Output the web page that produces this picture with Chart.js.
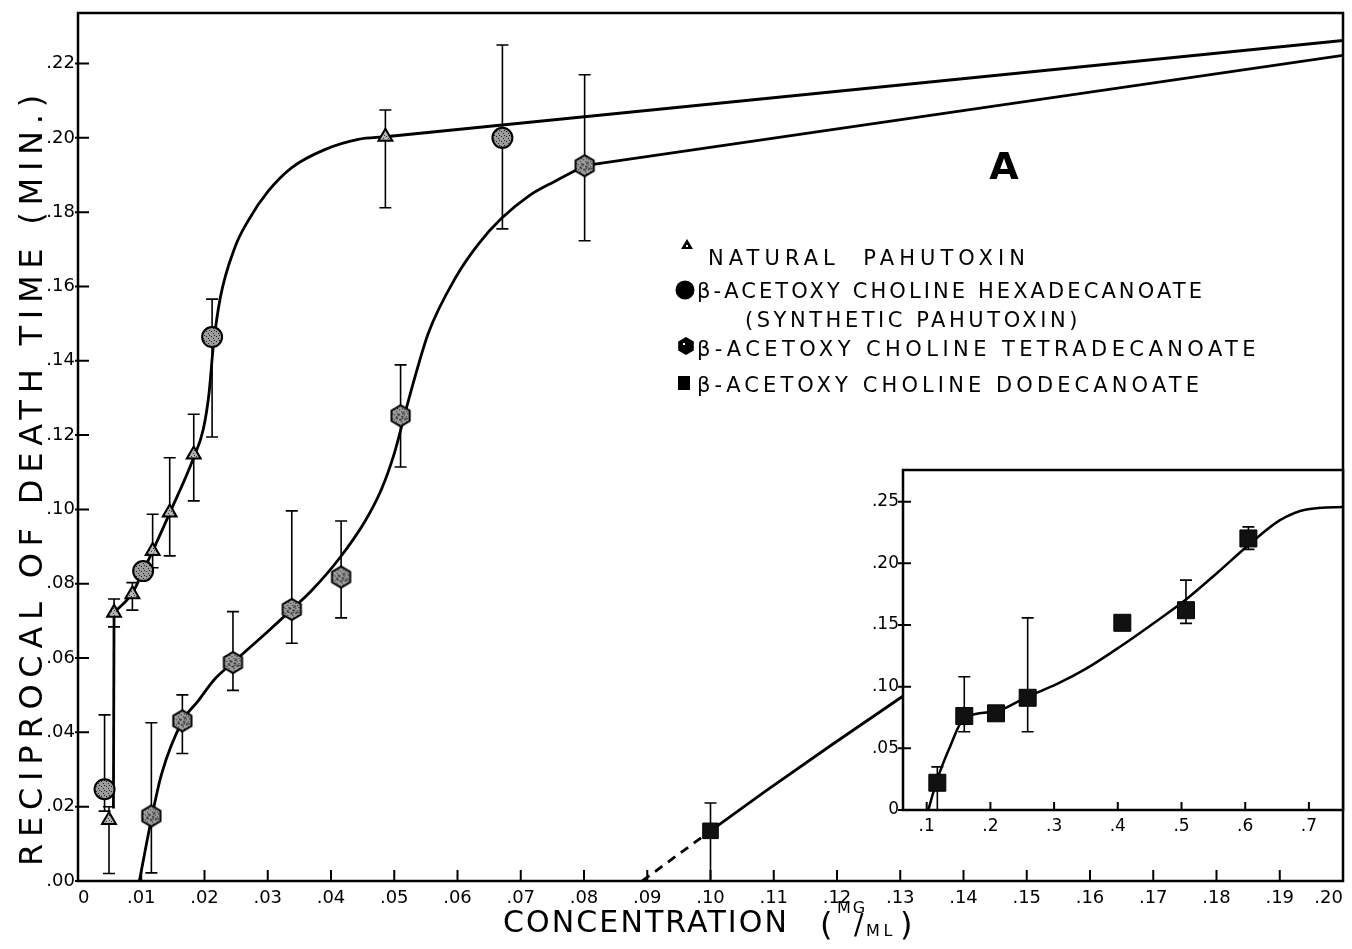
<!DOCTYPE html>
<html>
<head>
<meta charset="utf-8">
<script src="https://cdn.jsdelivr.net/npm/chart.js"></script>
<style>
  html, body { margin: 0; padding: 0; background: #fff; }
  #wrap { position: relative; width: 1352px; height: 949px; }
  #mainChart { position: absolute; left: 0; top: 0; }
  #insetChart { position: absolute; left: 850px; top: 460px; }
</style>
</head>
<body>
<div id="wrap">
  <canvas id="mainChart" width="1352" height="949"></canvas>
  <canvas id="insetChart" width="500" height="400"></canvas>
</div>
<script>
// ---- main panel data (concentration mg/ml vs 1/death time) ----
const naturalX = [0.0049, 0.0057, 0.0086, 0.0118, 0.0145, 0.0183, 0.0486];
const naturalY = [0.0164, 0.0722, 0.0772, 0.0888, 0.0992, 0.1148, 0.2003];
const naturalLo = [0.002, 0.0684, 0.0729, 0.0843, 0.0875, 0.1023, 0.1812];
const naturalHi = [0.020, 0.0759, 0.0803, 0.0987, 0.1139, 0.1256, 0.2075];

const hexadecX = [0.0042, 0.0103, 0.0212, 0.0671];
const hexadecY = [0.0247, 0.0834, 0.1464, 0.2000];
const hexadecLo = [0.0188, null, 0.1195, 0.1755];
const hexadecHi = [0.0447, null, 0.1566, 0.2250];

const tetraX = [0.0116, 0.0165, 0.0245, 0.0338, 0.0416, 0.0510, 0.0801];
const tetraY = [0.0175, 0.0431, 0.0588, 0.0731, 0.0818, 0.1252, 0.1925];
const tetraLo = [0.0022, 0.0343, 0.0513, 0.0640, 0.0708, 0.1114, 0.1723];
const tetraHi = [0.0426, 0.0501, 0.0725, 0.0996, 0.0969, 0.1389, 0.2170];

const dodecX = [0.100];
const dodecY = [0.0135];
const dodecLo = [0.0];
const dodecHi = [0.021];

// hand-drawn fitted curves: steep start, smooth body, straight tail
const naturalRiseX = [0.0056, 0.0057];
const naturalRiseY = [0.0195, 0.0722];
const naturalCurveX = [0.0057, 0.0086, 0.0103, 0.0118, 0.0145, 0.0183, 0.0198, 0.0207, 0.0214, 0.0225, 0.0248, 0.0269, 0.0301, 0.0338, 0.0391, 0.0443, 0.0486];
const naturalCurveY = [0.0722, 0.0775, 0.0834, 0.0888, 0.0990, 0.1140, 0.1215, 0.1310, 0.1440, 0.1570, 0.1705, 0.1777, 0.1857, 0.1920, 0.1969, 0.1996, 0.2003];
const naturalTailX = [0.0486, 0.2];
const naturalTailY = [0.2003, 0.2262];
const tetraCurveX = [0.0097, 0.0117, 0.0132, 0.0165, 0.0190, 0.0216, 0.0245, 0.0301, 0.0338, 0.0369, 0.0414, 0.0454, 0.0480, 0.0500, 0.0516, 0.0530, 0.0554, 0.0597, 0.0633, 0.0670, 0.0713, 0.0755, 0.0801];
const tetraCurveY = [0.0, 0.0175, 0.0287, 0.0430, 0.0485, 0.0543, 0.0588, 0.0673, 0.0731, 0.0781, 0.0870, 0.0969, 0.1055, 0.1150, 0.1252, 0.1340, 0.1475, 0.1624, 0.1714, 0.1784, 0.1844, 0.1884, 0.1925];
const tetraTailX = [0.0801, 0.2];
const tetraTailY = [0.1925, 0.2222];
const dodecCurveX = [0.0892, 0.100, 0.1087, 0.1193, 0.1315];
const dodecCurveY = [0.0, 0.0135, 0.0242, 0.0368, 0.0510];

const mainXTicks = [0, 0.01, 0.02, 0.03, 0.04, 0.05, 0.06, 0.07, 0.08, 0.09, 0.10, 0.11, 0.12, 0.13, 0.14, 0.15, 0.16, 0.17, 0.18, 0.19, 0.20];
const mainXLabels = ['0', '.01', '.02', '.03', '.04', '.05', '.06', '.07', '.08', '.09', '.10', '.11', '.12', '.13', '.14', '.15', '.16', '.17', '.18', '.19', '.20'];
const mainYTicks = [0, 0.02, 0.04, 0.06, 0.08, 0.10, 0.12, 0.14, 0.16, 0.18, 0.20, 0.22];
const mainYLabels = ['.00', '.02', '.04', '.06', '.08', '.10', '.12', '.14', '.16', '.18', '.20', '.22'];

// ---- inset data (dodecanoate, wider range) ----
const insetX = [0.1167, 0.159, 0.2088, 0.2585, 0.4071, 0.507, 0.605];
const insetY = [0.0221, 0.0762, 0.0784, 0.091, 0.1518, 0.162, 0.2202];
const insetLo = [0.0, 0.0635, null, 0.0635, null, 0.1513, 0.2113];
const insetHi = [0.035, 0.108, null, 0.1558, null, 0.1864, 0.2296];
const insetCurveX = [0.1025, 0.1167, 0.1366, 0.159, 0.2088, 0.2585, 0.304, 0.351, 0.4035, 0.4557, 0.507, 0.555, 0.605, 0.6546, 0.696, 0.76];
const insetCurveY = [0.0, 0.025, 0.0513, 0.0745, 0.0800, 0.0920, 0.1020, 0.1148, 0.1324, 0.1513, 0.1707, 0.1918, 0.2147, 0.2350, 0.2437, 0.2458];
const insetXTicks = [0.1, 0.2, 0.3, 0.4, 0.5, 0.6, 0.7];
const insetXLabels = ['.1', '.2', '.3', '.4', '.5', '.6', '.7'];
const insetYTicks = [0, 0.05, 0.10, 0.15, 0.20, 0.25];
const insetYLabels = ['0', '.05', '.10', '.15', '.20', '.25'];

const legendLabels = ['NATURAL  PAHUTOXIN', 'β-ACETOXY CHOLINE HEXADECANOATE', '(SYNTHETIC PAHUTOXIN)', 'β-ACETOXY CHOLINE TETRADECANOATE', 'β-ACETOXY CHOLINE DODECANOATE'];
const yTitle = 'RECIPROCAL OF DEATH TIME (MIN.)';
const xTitle = 'CONCENTRATION';
const panelLetter = 'A';

const FONT = '"DejaVu Sans", "Liberation Sans", sans-serif';

const pairs = (xs, ys) => xs.map((v, i) => ({ x: v, y: ys[i] }));

const mainCanvas = document.getElementById('mainChart');
const mainCtx = mainCanvas.getContext('2d');

// dotted grey fill, a bit like the printed stipple
function stipple(base, dot) {
  const c = document.createElement('canvas');
  c.width = 5; c.height = 5;
  const g = c.getContext('2d');
  g.fillStyle = base; g.fillRect(0, 0, 5, 5);
  g.fillStyle = dot;
  g.fillRect(1, 1, 1, 1); g.fillRect(3, 3, 1, 1); g.fillRect(4, 0, 1, 1);
  return mainCtx.createPattern(c, 'repeat');
}

function hexPath(g, cx, cy, r) {
  g.beginPath();
  for (let k = 0; k < 6; k++) {
    const a = Math.PI / 6 + k * Math.PI / 3;
    const px = cx + r * Math.cos(a), py = cy + r * Math.sin(a);
    k === 0 ? g.moveTo(px, py) : g.lineTo(px, py);
  }
  g.closePath();
}

function makeHexagon(r, fill) {
  const s = Math.ceil(2 * r + 4);
  const c = document.createElement('canvas');
  c.width = s; c.height = s;
  const g = c.getContext('2d');
  hexPath(g, s / 2, s / 2, r);
  g.fillStyle = fill; g.fill();
  g.fillStyle = '#333';
  [[-3, -2], [2, -4], [4, 2], [-1, 3], [-5, 1], [1, 0]].forEach(([dx, dy]) => g.fillRect(s / 2 + dx, s / 2 + dy, 2, 2));
  g.lineWidth = 2; g.strokeStyle = '#000'; g.stroke();
  return c;
}

// vertical error bars with caps, drawn under the markers
const errorBarPlugin = {
  id: 'errorBars',
  beforeDatasetsDraw(chart) {
    const { ctx, scales: { x, y } } = chart;
    ctx.save();
    ctx.strokeStyle = '#000';
    ctx.lineWidth = 1.6;
    chart.data.datasets.forEach((ds) => {
      if (!ds.errLo) return;
      ds.data.forEach((p, i) => {
        const lo = ds.errLo[i], hi = ds.errHi[i];
        if (lo == null || hi == null) return;
        const px = x.getPixelForValue(p.x);
        const yl = y.getPixelForValue(lo), yh = y.getPixelForValue(hi);
        ctx.beginPath();
        ctx.moveTo(px, yl); ctx.lineTo(px, yh);
        ctx.moveTo(px - 6, yl); ctx.lineTo(px + 6, yl);
        ctx.moveTo(px - 6, yh); ctx.lineTo(px + 6, yh);
        ctx.stroke();
      });
    });
    ctx.restore();
  }
};

function drawFrameAndTicks(chart, xTicks, yTicks, inLen, outLen) {
  const { ctx, chartArea: a, scales: { x, y } } = chart;
  ctx.save();
  ctx.strokeStyle = '#000';
  ctx.lineWidth = 2.5;
  ctx.strokeRect(a.left, a.top, a.right - a.left, a.bottom - a.top);
  ctx.lineWidth = 2;
  ctx.beginPath();
  xTicks.forEach((v) => {
    const px = x.getPixelForValue(v);
    ctx.moveTo(px, a.bottom); ctx.lineTo(px, a.bottom - inLen);
  });
  yTicks.forEach((v) => {
    const py = y.getPixelForValue(v);
    ctx.moveTo(a.left - outLen, py); ctx.lineTo(a.left + inLen, py);
  });
  ctx.stroke();
  ctx.restore();
}

// text stretched to a given width with letter spacing (lettering-guide look)
function drawSpaced(ctx, text, x, y, width) {
  ctx.letterSpacing = '0px';
  const w0 = ctx.measureText(text).width;
  const sp = Math.max(0, (width - w0) / text.length);
  ctx.letterSpacing = sp + 'px';
  ctx.fillText(text, x, y);
  ctx.letterSpacing = '0px';
}

function drawLegendMarker(ctx, kind, cx, cy) {
  ctx.save();
  ctx.fillStyle = '#000';
  ctx.strokeStyle = '#000';
  ctx.beginPath();
  if (kind === 'triangle') {
    ctx.moveTo(cx, cy - 6); ctx.lineTo(cx + 6, cy + 4); ctx.lineTo(cx - 6, cy + 4); ctx.closePath();
    ctx.fill();
    ctx.fillStyle = '#fff';
    ctx.fillRect(cx - 1, cy, 2, 2);
  } else if (kind === 'circle') {
    ctx.arc(cx, cy, 9.5, 0, Math.PI * 2); ctx.fill();
  } else if (kind === 'hex') {
    hexPath(ctx, cx, cy, 9); ctx.fill();
    ctx.fillStyle = '#fff'; ctx.fillRect(cx - 3, cy - 3, 2, 2);
  } else {
    ctx.fillRect(cx - 6, cy - 7, 12, 14);
  }
  ctx.restore();
}

const textPlugin = {
  id: 'mainText',
  afterDatasetsDraw(chart) {
    drawFrameAndTicks(chart, mainXTicks, mainYTicks, 11, 3);
  },
  afterDraw(chart) {
    const ctx = chart.ctx;
    ctx.save();
    ctx.fillStyle = '#000';
    ctx.textBaseline = 'alphabetic';
    ctx.textAlign = 'left';

    // y axis title (rotated)
    ctx.save();
    ctx.translate(30, 477);
    ctx.rotate(-Math.PI / 2);
    ctx.font = '32px ' + FONT;
    drawSpaced(ctx, yTitle, -389, 12, 778);
    ctx.restore();

    // x axis title with MG/ML fraction
    ctx.font = '30px ' + FONT;
    drawSpaced(ctx, xTitle, 503, 932, 286);
    ctx.font = '32px ' + FONT;
    ctx.fillText('(', 820, 935);
    ctx.fillText(')', 900, 935);
    ctx.font = '16px ' + FONT;
    drawSpaced(ctx, 'MG', 837, 913, 30);
    drawSpaced(ctx, 'ML', 866, 936, 30);
    ctx.font = '28px ' + FONT;
    ctx.fillText('/', 854, 934);

    // legend
    ctx.font = '21px ' + FONT;
    drawLegendMarker(ctx, 'triangle', 687, 245);
    drawSpaced(ctx, legendLabels[0], 708, 265, 322);
    drawLegendMarker(ctx, 'circle', 685, 290);
    drawSpaced(ctx, legendLabels[1], 697, 298, 508);
    drawSpaced(ctx, legendLabels[2], 745, 327, 336);
    drawLegendMarker(ctx, 'hex', 686, 346);
    drawSpaced(ctx, legendLabels[3], 697, 356, 563);
    drawLegendMarker(ctx, 'square', 684, 383);
    drawSpaced(ctx, legendLabels[4], 697, 392, 506);

    // panel letter
    ctx.font = 'bold 38px ' + FONT;
    ctx.textAlign = 'center';
    ctx.fillText(panelLetter, 1004, 179);
    ctx.restore();
  }
};

const curveStyle = {
  showLine: true,
  borderColor: '#000',
  borderWidth: 2.8,
  pointRadius: 0,
  cubicInterpolationMode: 'monotone',
  order: 2,
};
const straightStyle = { ...curveStyle, cubicInterpolationMode: 'default', tension: 0 };

const triFill = stipple('#b4b4b4', '#333');
const circFill = stipple('#9c9c9c', '#222');

// keep the plot box where the figure has it: no extra room for edge labels
const noEdgePadding = (s) => { s.paddingLeft = 0; s.paddingRight = 0; s.paddingTop = 0; s.paddingBottom = 0; };

const mainChart = new Chart(mainCanvas, {
  type: 'scatter',
  data: {
    datasets: [
      {
        label: 'Natural pahutoxin',
        data: pairs(naturalX, naturalY),
        errLo: naturalLo, errHi: naturalHi,
        pointStyle: 'triangle', pointRadius: 8,
        pointBackgroundColor: triFill, pointBorderColor: '#000', pointBorderWidth: 2,
        order: 1,
      },
      {
        label: 'β-acetoxy choline hexadecanoate',
        data: pairs(hexadecX, hexadecY),
        errLo: hexadecLo, errHi: hexadecHi,
        pointStyle: 'circle', pointRadius: 10,
        pointBackgroundColor: circFill, pointBorderColor: '#000', pointBorderWidth: 2,
        order: 1,
      },
      {
        label: 'β-acetoxy choline tetradecanoate',
        data: pairs(tetraX, tetraY),
        errLo: tetraLo, errHi: tetraHi,
        pointStyle: makeHexagon(10.5, circFill),
        order: 1,
      },
      {
        label: 'β-acetoxy choline dodecanoate',
        data: pairs(dodecX, dodecY),
        errLo: dodecLo, errHi: dodecHi,
        pointStyle: 'rect', pointRadius: 11,
        pointBackgroundColor: '#111', pointBorderColor: '#000', pointBorderWidth: 1,
        order: 1,
      },
      { label: 'natural rise', data: pairs(naturalRiseX, naturalRiseY), ...straightStyle },
      { label: 'natural fit', data: pairs(naturalCurveX, naturalCurveY), ...curveStyle },
      { label: 'natural tail', data: pairs(naturalTailX, naturalTailY), ...straightStyle },
      { label: 'tetradecanoate fit', data: pairs(tetraCurveX, tetraCurveY), ...curveStyle },
      { label: 'tetradecanoate tail', data: pairs(tetraTailX, tetraTailY), ...straightStyle },
      {
        label: 'dodecanoate fit',
        data: pairs(dodecCurveX, dodecCurveY),
        ...straightStyle,
        segment: { borderDash: (c) => (c.p0DataIndex === 0 ? [9, 7] : undefined) },
      },
    ],
  },
  options: {
    responsive: false,
    devicePixelRatio: 1,
    animation: false,
    layout: { autoPadding: false, padding: { top: 13, right: 9, left: 0, bottom: 0 } },
    plugins: { legend: { display: false }, tooltip: { enabled: false } },
    scales: {
      x: {
        type: 'linear', min: 0, max: 0.2,
        grid: { display: false, drawTicks: false },
        border: { display: false },
        afterBuildTicks: (s) => { s.ticks = mainXTicks.map((v) => ({ value: v })); },
        afterFit: (s) => { s.height = 68; noEdgePadding(s); },
        ticks: {
          autoSkip: false, maxRotation: 0, padding: 7, color: '#000', align: 'inner',
          font: { family: FONT, size: 18 },
          callback: (v, i) => mainXLabels[i],
        },
      },
      y: {
        type: 'linear', min: 0, max: 0.2336,
        grid: { display: false, drawTicks: false },
        border: { display: false },
        afterBuildTicks: (s) => { s.ticks = mainYTicks.map((v) => ({ value: v })); },
        afterFit: (s) => { s.width = 78; noEdgePadding(s); },
        ticks: {
          autoSkip: false, padding: 3, color: '#000',
          font: { family: FONT, size: 18 },
          callback: (v, i) => mainYLabels[i],
        },
      },
    },
  },
  plugins: [errorBarPlugin, textPlugin],
});

// ---- inset ----
const insetPlugin = {
  id: 'insetFrame',
  beforeDraw(chart) {
    const { ctx, chartArea: a } = chart;
    ctx.save();
    ctx.fillStyle = '#fff';
    ctx.fillRect(a.left, a.top, a.right - a.left, a.bottom - a.top);
    ctx.restore();
  },
  afterDatasetsDraw(chart) {
    drawFrameAndTicks(chart, insetXTicks, insetYTicks, 8, 5);
  },
};

const insetChart = new Chart(document.getElementById('insetChart'), {
  type: 'scatter',
  data: {
    datasets: [
      {
        label: 'β-acetoxy choline dodecanoate',
        data: pairs(insetX, insetY),
        errLo: insetLo, errHi: insetHi,
        pointStyle: 'rect', pointRadius: 12,
        pointBackgroundColor: '#111', pointBorderColor: '#000', pointBorderWidth: 1,
        order: 1,
      },
      { label: 'dodecanoate fit', data: pairs(insetCurveX, insetCurveY), ...curveStyle, borderWidth: 2.5 },
    ],
  },
  options: {
    responsive: false,
    devicePixelRatio: 1,
    animation: false,
    layout: { autoPadding: false, padding: { top: 10, right: 7, left: 0, bottom: 0 } },
    plugins: { legend: { display: false }, tooltip: { enabled: false } },
    scales: {
      x: {
        type: 'linear', min: 0.0628, max: 0.7535,
        grid: { display: false, drawTicks: false },
        border: { display: false },
        afterBuildTicks: (s) => { s.ticks = insetXTicks.map((v) => ({ value: v })); },
        afterFit: (s) => { s.height = 50; noEdgePadding(s); },
        ticks: {
          autoSkip: false, maxRotation: 0, padding: 6, color: '#000',
          font: { family: FONT, size: 17 },
          callback: (v, i) => insetXLabels[i],
        },
      },
      y: {
        type: 'linear', min: 0, max: 0.2757,
        grid: { display: false, drawTicks: false },
        border: { display: false },
        afterBuildTicks: (s) => { s.ticks = insetYTicks.map((v) => ({ value: v })); },
        afterFit: (s) => { s.width = 53; noEdgePadding(s); },
        ticks: {
          autoSkip: false, padding: 4, color: '#000',
          font: { family: FONT, size: 17 },
          callback: (v, i) => insetYLabels[i],
        },
      },
    },
  },
  plugins: [errorBarPlugin, insetPlugin],
});
</script>
</body>
</html>
